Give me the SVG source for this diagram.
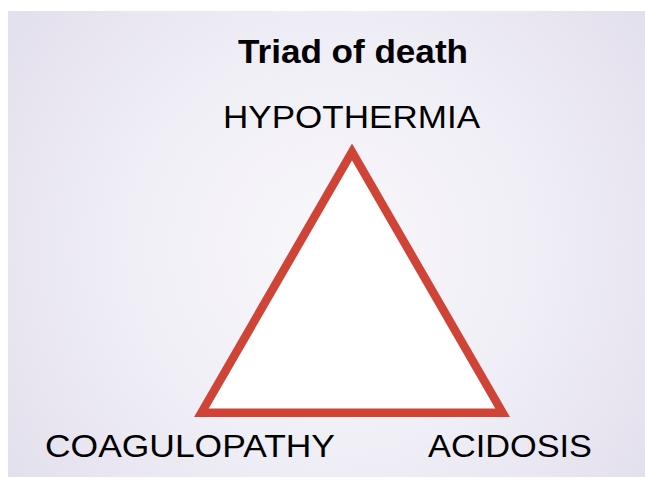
<svg xmlns="http://www.w3.org/2000/svg" width="645" height="481" viewBox="0 0 645 481">
  <defs>
    <radialGradient id="bg" cx="330" cy="250" r="380" gradientUnits="userSpaceOnUse">
      <stop offset="0" stop-color="#f8f7fb"/>
      <stop offset="0.45" stop-color="#f2f0f7"/>
      <stop offset="1" stop-color="#e4e1ee"/>
    </radialGradient>
    <style>
      .lbl { font-family: "Liberation Sans", Arial, Helvetica, sans-serif; font-size: 32px; fill: #000; }
      .title { font-family: "Liberation Sans", Arial, Helvetica, sans-serif; font-size: 33px; font-weight: bold; fill: #000; }
      .tri { fill: #ffffff; stroke: #cf4437; stroke-width: 8.5; stroke-linejoin: miter; stroke-miterlimit: 10; }
    </style>
  </defs>
  <rect x="0" y="0" width="645" height="481" fill="#ffffff"/>
  <rect x="8" y="11" width="637" height="466" fill="url(#bg)"/>
  <g id="title">
    <text class="title" x="238" y="63" textLength="230" lengthAdjust="spacingAndGlyphs">Triad of death</text>
  </g>
  <g id="triangle">
    <polygon class="tri" points="352,151.9 502.6,412.7 201.4,412.7"/>
  </g>
  <g id="hypothermia">
    <text class="lbl" x="223" y="128" textLength="257" lengthAdjust="spacingAndGlyphs">HYPOTHERMIA</text>
  </g>
  <g id="coagulopathy">
    <text class="lbl" x="45" y="457" textLength="290" lengthAdjust="spacingAndGlyphs">COAGULOPATHY</text>
  </g>
  <g id="acidosis">
    <text class="lbl" x="428" y="457" textLength="164" lengthAdjust="spacingAndGlyphs">ACIDOSIS</text>
  </g>
  <g id="connectors"></g>
</svg>
